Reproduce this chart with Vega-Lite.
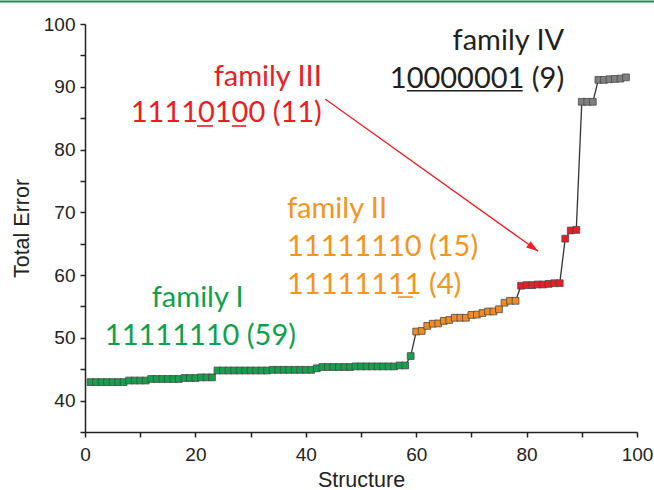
{
  "$schema": "https://vega.github.io/schema/vega-lite/v6.json",
  "width": 552,
  "height": 408,
  "autosize": {"type": "none"},
  "padding": {"left": 85, "top": 24, "right": 17, "bottom": 58},
  "background": "white",
  "config": {"view": {"stroke": null}, "font": "Liberation Sans", "axis": {"labelFont": "Liberation Sans", "titleFont": "Liberation Sans"}},
  "datasets": {
    "pts": [
      {"s":1,"e":42.95,"f":"I"},{"s":2,"e":42.95,"f":"I"},{"s":3,"e":42.95,"f":"I"},{"s":4,"e":42.95,"f":"I"},{"s":5,"e":42.95,"f":"I"},{"s":6,"e":42.95,"f":"I"},{"s":7,"e":42.95,"f":"I"},
      {"s":8,"e":43.2,"f":"I"},{"s":9,"e":43.2,"f":"I"},{"s":10,"e":43.2,"f":"I"},{"s":11,"e":43.2,"f":"I"},
      {"s":12,"e":43.45,"f":"I"},{"s":13,"e":43.45,"f":"I"},{"s":14,"e":43.45,"f":"I"},{"s":15,"e":43.45,"f":"I"},{"s":16,"e":43.45,"f":"I"},{"s":17,"e":43.45,"f":"I"},
      {"s":18,"e":43.6,"f":"I"},{"s":19,"e":43.6,"f":"I"},{"s":20,"e":43.6,"f":"I"},
      {"s":21,"e":43.7,"f":"I"},{"s":22,"e":43.7,"f":"I"},{"s":23,"e":43.7,"f":"I"},
      {"s":24,"e":44.8,"f":"I"},{"s":25,"e":44.8,"f":"I"},{"s":26,"e":44.8,"f":"I"},{"s":27,"e":44.8,"f":"I"},{"s":28,"e":44.8,"f":"I"},{"s":29,"e":44.8,"f":"I"},{"s":30,"e":44.8,"f":"I"},{"s":31,"e":44.8,"f":"I"},{"s":32,"e":44.8,"f":"I"},{"s":33,"e":44.8,"f":"I"},
      {"s":34,"e":44.9,"f":"I"},{"s":35,"e":44.9,"f":"I"},{"s":36,"e":44.9,"f":"I"},{"s":37,"e":44.9,"f":"I"},{"s":38,"e":44.9,"f":"I"},{"s":39,"e":44.9,"f":"I"},{"s":40,"e":44.9,"f":"I"},{"s":41,"e":44.9,"f":"I"},
      {"s":42,"e":45.15,"f":"I"},
      {"s":43,"e":45.35,"f":"I"},{"s":44,"e":45.35,"f":"I"},{"s":45,"e":45.35,"f":"I"},{"s":46,"e":45.35,"f":"I"},{"s":47,"e":45.35,"f":"I"},{"s":48,"e":45.35,"f":"I"},
      {"s":49,"e":45.45,"f":"I"},{"s":50,"e":45.45,"f":"I"},{"s":51,"e":45.45,"f":"I"},{"s":52,"e":45.45,"f":"I"},{"s":53,"e":45.45,"f":"I"},{"s":54,"e":45.45,"f":"I"},{"s":55,"e":45.45,"f":"I"},{"s":56,"e":45.45,"f":"I"},
      {"s":57,"e":45.6,"f":"I"},{"s":58,"e":45.6,"f":"I"},
      {"s":59,"e":47.1,"f":"I"},
      {"s":60,"e":51.0,"f":"II"},{"s":61,"e":51.1,"f":"II"},{"s":62,"e":51.9,"f":"II"},{"s":63,"e":52.25,"f":"II"},{"s":64,"e":52.3,"f":"II"},{"s":65,"e":52.7,"f":"II"},{"s":66,"e":52.85,"f":"II"},{"s":67,"e":53.2,"f":"II"},{"s":68,"e":53.2,"f":"II"},{"s":69,"e":53.2,"f":"II"},{"s":70,"e":53.65,"f":"II"},{"s":71,"e":53.7,"f":"II"},{"s":72,"e":53.95,"f":"II"},{"s":73,"e":54.2,"f":"II"},{"s":74,"e":54.2,"f":"II"},{"s":75,"e":54.55,"f":"II"},{"s":76,"e":55.6,"f":"II"},{"s":77,"e":55.9,"f":"II"},{"s":78,"e":55.9,"f":"II"},
      {"s":79,"e":58.3,"f":"III"},{"s":80,"e":58.4,"f":"III"},{"s":81,"e":58.4,"f":"III"},{"s":82,"e":58.5,"f":"III"},{"s":83,"e":58.5,"f":"III"},{"s":84,"e":58.6,"f":"III"},{"s":85,"e":58.7,"f":"III"},{"s":86,"e":58.7,"f":"III"},{"s":87,"e":65.8,"f":"III"},{"s":88,"e":67.1,"f":"III"},{"s":89,"e":67.2,"f":"III"},
      {"s":90,"e":87.6,"f":"IV"},{"s":91,"e":87.6,"f":"IV"},{"s":92,"e":87.6,"f":"IV"},{"s":93,"e":91.1,"f":"IV"},{"s":94,"e":91.1,"f":"IV"},{"s":95,"e":91.2,"f":"IV"},{"s":96,"e":91.25,"f":"IV"},{"s":97,"e":91.3,"f":"IV"},{"s":98,"e":91.5,"f":"IV"}
    ],
    "labels": [
      {"s":12.1,"e":54.9,"t":"family I","f":"I"},
      {"s":3.6,"e":48.86,"t":"11111110 (59)","f":"I"},
      {"s":36.6,"e":69.1,"t":"family II","f":"II"},
      {"s":36.6,"e":63.04,"t":"11111110 (15)","f":"II"},
      {"s":36.6,"e":57.0,"t":"11111111 (4)","f":"II"},
      {"s":42.9,"e":90.1,"t":"family III","f":"III"},
      {"s":42.9,"e":84.4,"t":"11110100 (11)","f":"III"},
      {"s":86.8,"e":95.9,"t":"family IV","f":"IV"},
      {"s":86.8,"e":89.8,"t":"10000001 (9)","f":"IV"}
    ],
    "underlines": [
      {"s":56.7,"s2":59.4,"e":56.5,"f":"II"},
      {"s":20.3,"s2":23.2,"e":83.75,"f":"III"},
      {"s":26.6,"s2":29.2,"e":83.75,"f":"III"},
      {"s":58.3,"s2":79.3,"e":89.37,"f":"IV"}
    ],
    "arrow": [
      {"s":43.5,"e":88.05,"s2":82.1,"e2":63.8}
    ],
    "frame": [
      {"s":-15.4,"s2":103.1,"e":103.6}
    ]
  },
  "layer": [
    {
      "data": {"name": "pts"},
      "mark": {"type": "line", "color": "#333333", "strokeWidth": 1.3},
      "encoding": {
        "x": {"field": "s", "type": "quantitative", "scale": {"domain": [0, 100], "nice": false},
          "axis": {"values": [0,10,20,30,40,50,60,70,80,90,100], "tickCount": 40, "labelExpr": "datum.value % 20 === 0 ? datum.label : ''",
            "title": "Structure", "grid": false, "labelFlush": false, "labelOverlap": false, "domainColor": "#222", "tickColor": "#222", "domainWidth": 1.5, "tickWidth": 1.5, "tickSize": 5,
            "labelFontSize": 19, "labelColor": "#222", "labelPadding": 8, "titleFontSize": 21.5, "titleFontWeight": "normal", "titleColor": "#222", "titlePadding": 5}},
        "y": {"field": "e", "type": "quantitative", "scale": {"domain": [35, 100], "nice": false},
          "axis": {"values": [35,40,45,50,55,60,65,70,75,80,85,90,95,100], "tickCount": 40, "labelExpr": "datum.value % 10 === 0 ? datum.label : ''",
            "title": "Total Error", "grid": false, "labelOverlap": false, "domainColor": "#222", "tickColor": "#222", "domainWidth": 1.5, "tickWidth": 1.5, "tickSize": 5,
            "labelFontSize": 19, "labelColor": "#222", "labelPadding": 5, "titleFontSize": 21.5, "titleFontWeight": "normal", "titleColor": "#222", "titlePadding": 10}},
        "order": {"field": "s"}
      }
    },
    {
      "data": {"name": "pts"},
      "mark": {"type": "point", "shape": "square", "filled": true, "size": 46, "stroke": "#4a4a4a", "strokeWidth": 0.8, "opacity": 1},
      "encoding": {
        "x": {"field": "s", "type": "quantitative"},
        "y": {"field": "e", "type": "quantitative"},
        "fill": {"field": "f", "type": "nominal", "scale": {"domain": ["I","II","III","IV"], "range": ["#14a04c","#f08a22","#ec1c24","#7f7f7f"]}, "legend": null}
      }
    },
    {
      "data": {"name": "labels"},
      "transform": [{"filter": "datum.f === 'I' || datum.f === 'II'"}],
      "mark": {"type": "text", "align": "left", "baseline": "alphabetic", "font": "Lato", "fontSize": 29},
      "encoding": {
        "x": {"field": "s", "type": "quantitative"},
        "y": {"field": "e", "type": "quantitative"},
        "text": {"field": "t"},
        "color": {"field": "f", "type": "nominal", "scale": {"domain": ["I","II","III","IV"], "range": ["#0ea14b","#f7941d","#ed1c24","#231f20"]}, "legend": null}
      }
    },
    {
      "data": {"name": "labels"},
      "transform": [{"filter": "datum.f === 'III' || datum.f === 'IV'"}],
      "mark": {"type": "text", "align": "right", "baseline": "alphabetic", "font": "Lato", "fontSize": 29},
      "encoding": {
        "x": {"field": "s", "type": "quantitative"},
        "y": {"field": "e", "type": "quantitative"},
        "text": {"field": "t"},
        "color": {"field": "f", "type": "nominal", "scale": {"domain": ["I","II","III","IV"], "range": ["#0ea14b","#f7941d","#ed1c24","#231f20"]}, "legend": null}
      }
    },
    {
      "data": {"name": "underlines"},
      "mark": {"type": "rule", "strokeWidth": 1.6},
      "encoding": {
        "x": {"field": "s", "type": "quantitative"},
        "x2": {"field": "s2"},
        "y": {"field": "e", "type": "quantitative"},
        "color": {"field": "f", "type": "nominal", "scale": {"domain": ["I","II","III","IV"], "range": ["#0ea14b","#f7941d","#ed1c24","#231f20"]}, "legend": null}
      }
    },
    {
      "data": {"name": "arrow"},
      "mark": {"type": "rule", "color": "#ec2027", "strokeWidth": 1.3},
      "encoding": {
        "x": {"field": "s", "type": "quantitative"},
        "y": {"field": "e", "type": "quantitative"},
        "x2": {"field": "s2"},
        "y2": {"field": "e2"}
      }
    },
    {
      "data": {"name": "arrow"},
      "mark": {"type": "point", "shape": "M0,0L0.32,1L-0.32,1Z", "filled": true, "color": "#ec2027", "size": 576, "angle": 125.5, "opacity": 1},
      "encoding": {
        "x": {"field": "s2", "type": "quantitative"},
        "y": {"field": "e2", "type": "quantitative"}
      }
    },
    {
      "data": {"name": "frame"},
      "mark": {"type": "rule", "color": "#1a8c4e", "strokeWidth": 2, "clip": false},
      "encoding": {
        "x": {"field": "s", "type": "quantitative"},
        "x2": {"field": "s2"},
        "y": {"field": "e", "type": "quantitative"}
      }
    }
  ],
  "resolve": {"scale": {"color": "independent", "fill": "independent"}}
}
